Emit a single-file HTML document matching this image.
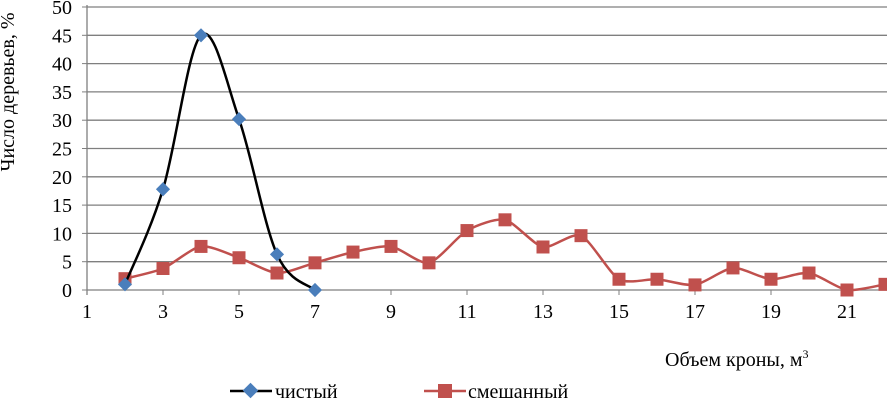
<!DOCTYPE html>
<html><head><meta charset="utf-8"><style>
body{margin:0;background:#fff;}
svg text{font-family:"Liberation Serif","Times New Roman",serif;fill:#000;}
</style></head><body>
<svg id="chart" width="887" height="401" xmlns="http://www.w3.org/2000/svg">
<g id="grid"></g>
<g id="axes"></g>
<g id="series"></g>
<text x="14" y="92" font-size="20" text-anchor="middle" transform="rotate(-90 14 92)">Число деревьев, %</text>
<text x="665" y="366" font-size="20">Объем кроны, м<tspan font-size="12" dy="-8">3</tspan></text>
<g>
<g>
<line x1="230" y1="391" x2="272" y2="391" stroke="#000" stroke-width="2.5"/>
<rect x="245" y="385" width="11" height="11" fill="#4a7ebb" transform="rotate(45 250.5 390.5)"/>
<text x="275" y="398" font-size="20">чистый</text></g>
<g>
<line x1="424" y1="391" x2="466" y2="391" stroke="#c0504d" stroke-width="2.5"/>
<rect x="438" y="384" width="14" height="14" fill="#c0504d"/>
<text x="468" y="398" font-size="20">смешанный</text></g>
</g>
</svg>
<script>
const yTicks=[0,5,10,15,20,25,30,35,40,45,50];
const xTicks=[1,3,5,7,9,11,13,15,17,19,21];
const pureX=[2,3,4,5,6,7];
const pureY=[1,17.8,45,30.2,6.3,0];
const mixedX=[2,3,4,5,6,7,8,9,10,11,12,13,14,15,16,17,18,19,20,21,22];
const mixedY=[2,3.8,7.7,5.7,3,4.8,6.7,7.7,4.8,10.5,12.4,7.6,9.6,1.9,1.9,0.9,3.9,1.9,3,0,1];
const NS="http://www.w3.org/2000/svg";
const xs=v=>87+(v-1)*38;
const ys=v=>290-v*5.66;
function mk(tag,attrs,parent){const e=document.createElementNS(NS,tag);for(const k in attrs)e.setAttribute(k,attrs[k]);parent.appendChild(e);return e;}
const grid=document.getElementById('grid'),axes=document.getElementById('axes'),ser=document.getElementById('series');
yTicks.forEach(t=>{
 if(t>0){const l=mk('line',{x1:87,x2:887,y1:ys(t),y2:ys(t),stroke:'#7f7f7f','stroke-width':1.3},grid);
 
 }
 const tx=mk('text',{x:72,y:ys(t)+7,'font-size':20,'text-anchor':'end'},axes);tx.textContent=t;
 
 
 mk('line',{x1:82,x2:87,y1:ys(t),y2:ys(t),stroke:'#7f7f7f'},axes);
});
const xa=mk('line',{x1:87,x2:887,y1:290,y2:290,stroke:'#7f7f7f','stroke-width':1.3},axes);


const ya=mk('line',{x1:87,x2:87,y1:5,y2:295,stroke:'#7f7f7f','stroke-width':1.3},axes);


xTicks.forEach(t=>{
 mk('line',{x1:xs(t),x2:xs(t),y1:290,y2:295,stroke:'#7f7f7f'},axes);
 const tx=mk('text',{x:xs(t),y:318,'font-size':20,'text-anchor':'middle'},axes);tx.textContent=t;
 
 
});
function smooth(pts,k){let d='M'+pts[0][0]+','+pts[0][1];
 for(let i=0;i<pts.length-1;i++){const p0=pts[i-1]||pts[i],p1=pts[i],p2=pts[i+1],p3=pts[i+2]||p2;
 const c1=[p1[0]+(p2[0]-p0[0])*k,p1[1]+(p2[1]-p0[1])*k],c2=[p2[0]-(p3[0]-p1[0])*k,p2[1]-(p3[1]-p1[1])*k];
 d+=' C'+c1+' '+c2+' '+p2;}return d;}
const pp=pureX.map((x,i)=>[xs(x),ys(pureY[i])]);
const mp=mixedX.map((x,i)=>[xs(x),ys(mixedY[i])]);
const ml=mk('path',{d:smooth(mp,0.12),fill:'none',stroke:'#c0504d','stroke-width':2.5},ser);


mp.forEach((p,i)=>{const r=mk('rect',{x:p[0]-6.5,y:p[1]-6.5,width:13,height:13,fill:'#c0504d'},ser);
 
 });
const pl=mk('path',{d:smooth(pp,0.17),fill:'none',stroke:'#000','stroke-width':2.5},ser);


pp.forEach((p,i)=>{const r=mk('rect',{x:p[0]-5,y:p[1]-5,width:10,height:10,fill:'#4a7ebb',transform:'rotate(45 '+p[0]+' '+p[1]+')'},ser);
 
 });
</script>
</body></html>
